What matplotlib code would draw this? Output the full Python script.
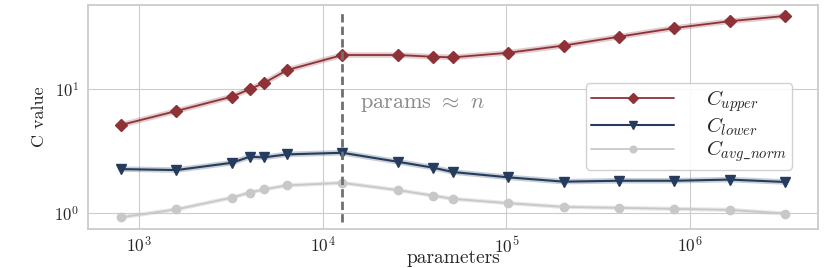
import matplotlib
matplotlib.use("Agg")
import matplotlib.pyplot as plt
import seaborn as sns

sns.set_style("whitegrid")
plt.rcParams['font.family'] = 'serif'
plt.rcParams['font.serif'] = ['cmr10', 'DejaVu Serif']
plt.rcParams['mathtext.fontset'] = 'cm'
plt.rcParams['axes.formatter.use_mathtext'] = True

# parametros del modelo
params = [800, 1600, 3200, 4000, 4800, 6400, 12800, 25600, 40000, 51200,
          102400, 204800, 409600, 819200, 1638400, 3276800]
c_upper = [5.13, 6.65, 8.67, 9.96, 11.2, 14.2, 18.8, 18.8, 18.2, 18.0,
           19.6, 22.4, 26.4, 31.0, 35.2, 38.8]
c_lower = [2.26, 2.22, 2.54, 2.84, 2.81, 2.97, 3.06, 2.59, 2.32, 2.14,
           1.94, 1.79, 1.82, 1.82, 1.86, 1.78]
c_avg_norm = [0.923, 1.07, 1.33, 1.46, 1.55, 1.67, 1.75, 1.53, 1.38, 1.30,
              1.20, 1.12, 1.10, 1.08, 1.06, 0.99]
n_samples = 12800

rojo = '#8e3238'
azul = '#253c5e'
gris = '#c4c4c4'

fig = plt.figure(figsize=(8.3, 2.68), dpi=100)
ax = fig.add_axes([0.106, 0.1455, 0.8795, 0.8355])

# banda suave debajo de cada linea
ax.plot(params, c_upper, color=rojo, lw=4, alpha=0.25, solid_capstyle='round')
ax.plot(params, c_lower, color=azul, lw=4, alpha=0.25, solid_capstyle='round')
ax.plot(params, c_avg_norm, color=gris, lw=3, alpha=0.4, solid_capstyle='round')

ax.plot(params, c_upper, color=rojo, lw=1.3, marker='D', ms=6, label=r'$C_{upper}$')
ax.plot(params, c_lower, color=azul, lw=1.5, marker='v', ms=7, label=r'$C_{lower}$')
ax.plot(params, c_avg_norm, color='#c8c8c8', lw=1.3, marker='o', ms=6, label=r'$C_{avg\_norm}$')

ax.vlines(n_samples, 0.85, 42, colors='#707070', linestyles=(0, (3, 1.5)), lw=2)
ax.text(16000, 7.0, r'params $\approx$ $n$', color='#8a8a8a', fontsize=16)

ax.set_xscale('log')
ax.set_yscale('log')
ax.set_xlim(528, 4.96e6)
ax.set_ylim(0.743, 47.5)
ax.minorticks_off()
ax.tick_params(axis='x', labelsize=12.5, pad=1)
ax.tick_params(axis='y', labelsize=12, pad=3)
ax.set_xlabel('parameters', fontsize=14)
ax.xaxis.set_label_coords(0.5, -0.09)
ax.set_ylabel('C value', fontsize=13, labelpad=5)
for s in ax.spines.values():
    s.set_color('#cccccc')
    s.set_linewidth(1.3)

ax.legend(loc='upper left', bbox_to_anchor=(0.682, 0.652), fontsize=15,
          handlelength=4.0, framealpha=0.9, borderpad=0.25, labelspacing=0.05,
          handletextpad=1.5, borderaxespad=0, markerscale=0.8)

plt.savefig('out.png', dpi=100)
